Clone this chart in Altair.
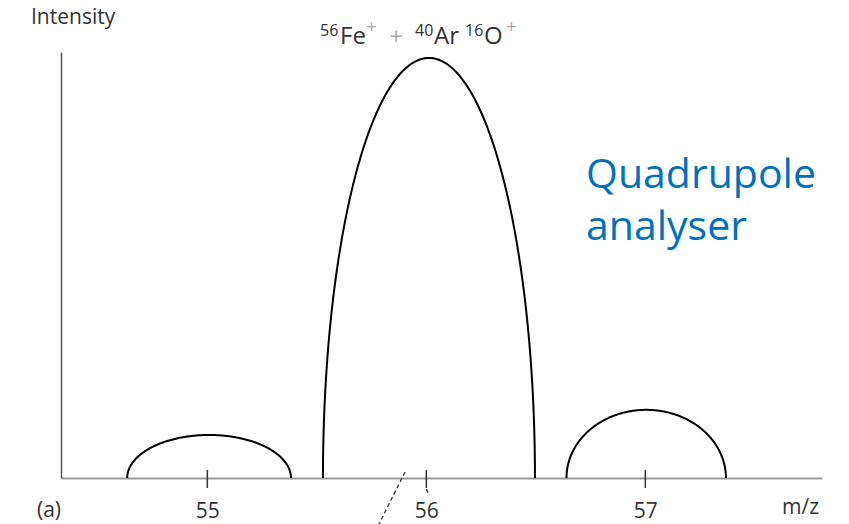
import numpy as np
import pandas as pd
import altair as alt

# Peak parameters (m/z centre, half-width at base, height in arbitrary intensity units)
peak_mz = [55.008, 56.012, 57.004]
peak_halfwidth = [0.374, 0.484, 0.364]
peak_height = [10.1, 98.6, 16.0]

# Nominal mass ticks on the m/z axis
tick_mz = [55, 56, 57]
tick_low = [-2.35, -2.35, -2.35]
tick_high = [1.9, 1.9, 1.9]

MZ_MIN, MZ_MAX = 54.3318, 57.8067
INT_MAX = 100

# Each peak is drawn as a smooth half-ellipse standing on the baseline
rows = []
for i, (c, w, h) in enumerate(zip(peak_mz, peak_halfwidth, peak_height)):
    for k, t in enumerate(np.linspace(0, np.pi, 241)):
        rows.append({"peak": i, "order": k,
                     "mz": c - w * np.cos(t),
                     "intensity": h * np.sin(t)})
peaks = pd.DataFrame(rows)

x_scale = alt.Scale(domain=[MZ_MIN, MZ_MAX], nice=False, zero=False)
y_scale = alt.Scale(domain=[0, INT_MAX], nice=False)

x_axis = alt.Axis(values=tick_mz, format="d", ticks=False, grid=False,
                  domainColor="#9a9a9a", domainWidth=2,
                  labelFont="Open Sans", labelFontSize=21, labelColor="#333333",
                  labelBaseline="alphabetic", labelPadding=39, title=None)
y_axis = alt.Axis(ticks=False, labels=False, grid=False,
                  domainColor="#555555", domainWidth=1.5, title=None)

curves = alt.Chart(peaks).mark_line(color="black", strokeWidth=2).encode(
    x=alt.X("mz:Q", scale=x_scale, axis=x_axis),
    y=alt.Y("intensity:Q", scale=y_scale, axis=y_axis),
    detail="peak:N",
    order="order:Q",
)

ticks_df = pd.DataFrame({"mz": tick_mz, "lo": tick_low, "hi": tick_high})
ticks = alt.Chart(ticks_df).mark_rule(color="#333333", strokeWidth=1.5).encode(
    x=alt.X("mz:Q", scale=x_scale),
    y=alt.Y("lo:Q", scale=y_scale),
    y2="hi:Q",
)

# Dashed leader lines running below the axis near m/z 56
leader_df = pd.DataFrame({
    "x": [55.9026, 56.0], "y": [1.4, -2.6],
    "x2": [55.7838, 56.012], "y2": [-10.8, -4.0],
})
leaders = alt.Chart(leader_df).mark_rule(
    color="#333333", strokeWidth=1.3, strokeDash=[4, 3]
).encode(
    x=alt.X("x:Q", scale=x_scale),
    y=alt.Y("y:Q", scale=y_scale),
    x2="x2:Q",
    y2="y2:Q",
)

one = pd.DataFrame({"k": [0]})


def label(text, x, y, size, color="#333333", align="left", font="Open Sans"):
    return alt.Chart(one).mark_text(
        text=text, align=align, baseline="alphabetic",
        fontSize=size, color=color, font=font,
    ).encode(x=alt.value(x), y=alt.value(y))


texts = [
    label("Intensity", -30, -28, 21),
    label("(a)", -24, 465, 21),
    label("m/z", 721, 462, 21),
    # species label above the main peak
    label("56", 259, -16, 16),
    label("Fe", 279, -8, 24),
    label("+", 305, -19, 19, color="#a8a8a8"),
    label("+", 335, -7, 24, color="#a8a8a8", align="center"),
    label("40", 354, -16, 16),
    label("Ar", 373, -8, 24),
    label("16", 404, -16, 16),
    label("O", 423, -8, 24),
    label("+", 445, -19, 19, color="#a8a8a8"),
    # analyser annotation
    label("Quadrupole", 525, 136, 41, color="#0070C0"),
    label("analyser", 525, 188, 41, color="#0070C0"),
]

chart = alt.layer(curves, ticks, leaders, *texts).properties(
    width=761,
    height=426,
    autosize=alt.AutoSizeParams(type="none"),
    padding={"left": 61, "top": 52, "right": 27, "bottom": 46},
    background="white",
).configure_view(stroke=None)

chart.save("out.html", embed_options={"renderer": "svg", "actions": False})
